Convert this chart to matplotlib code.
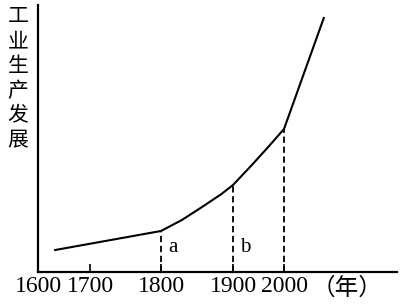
import numpy as np
import matplotlib
matplotlib.use("Agg")
import matplotlib.pyplot as plt

# data: years and (arbitrary) industrial output level
years = [1633, 1800, 1829, 1857, 1884, 1900, 1937, 1969, 2000, 2078]
output = [22, 41, 52, 65, 78, 87, 107, 125, 143, 254]
marked_years = [1800, 1900, 2000]
marked_names = ["a", "b", ""]
tick_years = [1600, 1700, 1800, 1900, 2000]
ylabel_chars = list("工业生产发展")

# the drawing is not to scale: piecewise-linear year axis
KNOT_YEARS = np.array([1600, 1700, 1800, 1900, 2000], float)
KNOT_POS = np.array([0, 52, 123, 195, 246], float)


def _pw(x, xp, fp):
    x = np.asarray(x, float)
    y = np.interp(x, xp, fp)
    y = np.where(x < xp[0], fp[0] + (x - xp[0]) * (fp[1] - fp[0]) / (xp[1] - xp[0]), y)
    y = np.where(x > xp[-1], fp[-1] + (x - xp[-1]) * (fp[-1] - fp[-2]) / (xp[-1] - xp[-2]), y)
    return y


def fwd(x):
    return _pw(x, KNOT_YEARS, KNOT_POS)


def inv(p):
    return _pw(p, KNOT_POS, KNOT_YEARS)


fig = plt.figure(figsize=(4.05, 3.07), dpi=100)
ax = fig.add_axes([38 / 405, 35 / 307, (397 - 38) / 405, (272 - 5) / 307])
ax.set_xscale("function", functions=(fwd, inv))

ax.plot(years, output, color="black", lw=1.5, solid_joinstyle="round")
lookup = dict(zip(years, output))
for yr, nm in zip(marked_years, marked_names):
    ax.vlines(yr, 0, lookup[yr], color="black", lw=1.3, linestyles=(0, (3.5, 2)))
    if nm:
        ax.annotate(nm, (yr, 0), xytext=(12, 24), textcoords="offset pixels",
                    ha="center", va="center", fontsize=15, family="Liberation Serif")

ax.set_xlim(1600, inv(397 - 38))
ax.set_ylim(0, 267)
for s in ["top", "right"]:
    ax.spines[s].set_visible(False)
for s in ["left", "bottom"]:
    ax.spines[s].set_linewidth(1.6)
ax.set_yticks([])
ax.set_xticks(tick_years)
ax.set_xticklabels([str(t) for t in tick_years], family="Liberation Serif", fontsize=17)
ax.tick_params(axis="x", direction="in", length=6, width=1.2, pad=3)

fig.text(347 / 405, 1 - 288 / 307, "（年）", ha="center", va="center",
         fontsize=17, family=["Noto Sans CJK SC", "DejaVu Sans"])
for i, ch in enumerate(ylabel_chars):
    fig.text(18 / 405, 1 - (16.5 + 24.7 * i) / 307, ch, ha="center", va="center",
             fontsize=15, family=["Noto Sans CJK SC", "DejaVu Sans"])

fig.savefig("out.png", dpi=100)
